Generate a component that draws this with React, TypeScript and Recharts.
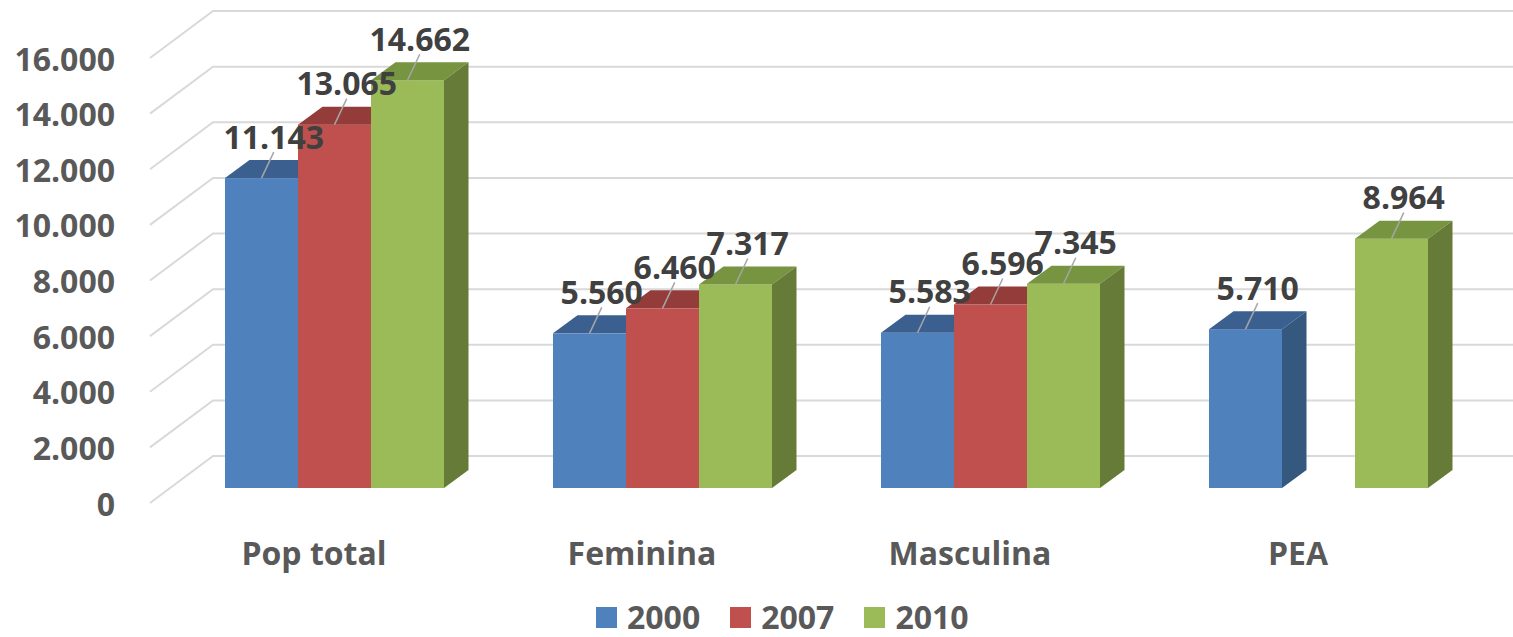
import { BarChart, Bar, XAxis, YAxis, CartesianGrid, LabelList, Legend } from "recharts";

const categories = ["Pop total", "Feminina", "Masculina", "PEA"];
const serie2000 = [11143, 5560, 5583, 5710];
const serie2007: (number | null)[] = [13065, 6460, 6596, null];
const serie2010 = [14662, 7317, 7345, 8964];
const years = ["2000", "2007", "2010"];
const yTicks = [0, 2000, 4000, 6000, 8000, 10000, 12000, 14000, 16000];

const data = categories.map((name, i) => ({
  name,
  y2000: serie2000[i],
  y2007: serie2007[i],
  y2010: serie2010[i],
}));

const W = 1513;
const H = 637;
const YAXIS_W = 120;
const PLOT_LEFT = 170.5;
const MARGIN = { top: 43, right: 30.5, left: PLOT_LEFT - YAXIS_W, bottom: 0 };
const LEGEND_H = 40;
const XAXIS_H = 109;

// 3D depth of the bars and of the floor/back wall
const DX = 24.5;
const DY = 18;
const FRONT = { dx: -20.5, dy: 15 };
const BACK = { dx: 42.5, dy: -32 };

const FONT = "'Open Sans', 'DejaVu Sans', sans-serif";
const AXIS_TEXT = "#595959";
const LABEL_TEXT = "#404040";

const palette = [
  { front: "#4F81BD", top: "#3B6090", side: "#35587F" },
  { front: "#C0504D", top: "#943C39", side: "#8A3836" },
  { front: "#9BBB59", top: "#779441", side: "#667B38" },
];

const fmt = (v: number) => String(v).replace(/\B(?=(\d{3})+(?!\d))/g, ".");

function Bar3D(props: any) {
  const { x, y, width, height, colors } = props;
  if (height == null || height <= 0 || isNaN(y)) return null;
  const r = x + width;
  const b = y + height;
  return (
    <g>
      <rect x={x} y={y} width={width} height={height} fill={colors.front} />
      <polygon
        points={`${x},${y} ${x + DX},${y - DY} ${r + DX},${y - DY} ${r},${y}`}
        fill={colors.top}
      />
      <polygon
        points={`${r},${y} ${r + DX},${y - DY} ${r + DX},${b - DY} ${r},${b}`}
        fill={colors.side}
      />
    </g>
  );
}

function ValueLabel(props: any) {
  const { x, y, width, value } = props;
  if (value == null) return null;
  const cx = x + width / 2;
  const tx = cx + DX / 2;
  return (
    <g>
      <line x1={cx} y1={y} x2={tx} y2={y - 26} stroke="#A6A6A6" strokeWidth={1.5} />
      <text
        x={tx}
        y={y - 42}
        textAnchor="middle"
        dominantBaseline="central"
        fontFamily={FONT}
        fontWeight={700}
        fontSize={32}
        fill={LABEL_TEXT}
      >
        {fmt(value)}
      </text>
    </g>
  );
}

function GridLine(props: any) {
  const { x1, y1, x2 } = props;
  const fx = x1 + FRONT.dx;
  const bx = x1 + BACK.dx;
  return (
    <path
      d={`M${fx},${y1 + FRONT.dy} L${bx},${y1 + BACK.dy} L${x2 + MARGIN.right},${y1 + BACK.dy}`}
      fill="none"
      stroke="#D9D9D9"
      strokeWidth={2}
    />
  );
}

function YTick(props: any) {
  const { y, payload } = props;
  return (
    <text
      x={PLOT_LEFT + FRONT.dx - 35}
      y={y + FRONT.dy}
      textAnchor="end"
      dominantBaseline="central"
      fontFamily={FONT}
      fontWeight={700}
      fontSize={32}
      fill={AXIS_TEXT}
    >
      {fmt(payload.value)}
    </text>
  );
}

function XTick(props: any) {
  const { x, payload } = props;
  return (
    <text
      x={x + FRONT.dx}
      y={H - LEGEND_H - XAXIS_H + 64}
      textAnchor="middle"
      dominantBaseline="central"
      fontFamily={FONT}
      fontWeight={700}
      fontSize={32}
      fill={AXIS_TEXT}
    >
      {payload.value}
    </text>
  );
}

function LegendContent() {
  return (
    <div
      style={{
        height: LEGEND_H,
        display: "flex",
        alignItems: "center",
        paddingLeft: 596,
        boxSizing: "border-box",
        fontFamily: FONT,
        fontWeight: 700,
        fontSize: 32,
        color: AXIS_TEXT,
      }}
    >
      {years.map((yr, i) => (
        <div key={yr} style={{ display: "flex", alignItems: "center", marginRight: 30 }}>
          <span style={{ width: 21, height: 21, background: palette[i].front, marginRight: 10 }} />
          <span style={{ lineHeight: "40px" }}>{yr}</span>
        </div>
      ))}
    </div>
  );
}

export default function App() {
  return (
    <div style={{ position: "absolute", left: 0, top: 0, width: W, height: H, background: "#fff" }}>
      <BarChart width={W} height={H} data={data} margin={MARGIN} barCategoryGap={54.5} barGap={0}>
        <CartesianGrid vertical={false} horizontal={(p: any) => <GridLine key={p.key} {...p} />} />
        <YAxis
          domain={[0, 16000]}
          ticks={yTicks}
          interval={0}
          width={YAXIS_W}
          axisLine={false}
          tickLine={false}
          tick={<YTick />}
        />
        <XAxis
          dataKey="name"
          height={XAXIS_H}
          interval={0}
          axisLine={false}
          tickLine={false}
          tick={<XTick />}
        />
        <Legend
          verticalAlign="bottom"
          height={LEGEND_H}
          wrapperStyle={{ left: 0, width: W, bottom: 0 }}
          content={() => <LegendContent />}
        />
        {["y2000", "y2007", "y2010"].map((key, i) => (
          <Bar
            key={key}
            dataKey={key}
            name={years[i]}
            fill={palette[i].front}
            isAnimationActive={false}
            shape={(p: any) => <Bar3D {...p} colors={palette[i]} />}
          >
            <LabelList dataKey={key} content={<ValueLabel />} />
          </Bar>
        ))}
      </BarChart>
    </div>
  );
}
